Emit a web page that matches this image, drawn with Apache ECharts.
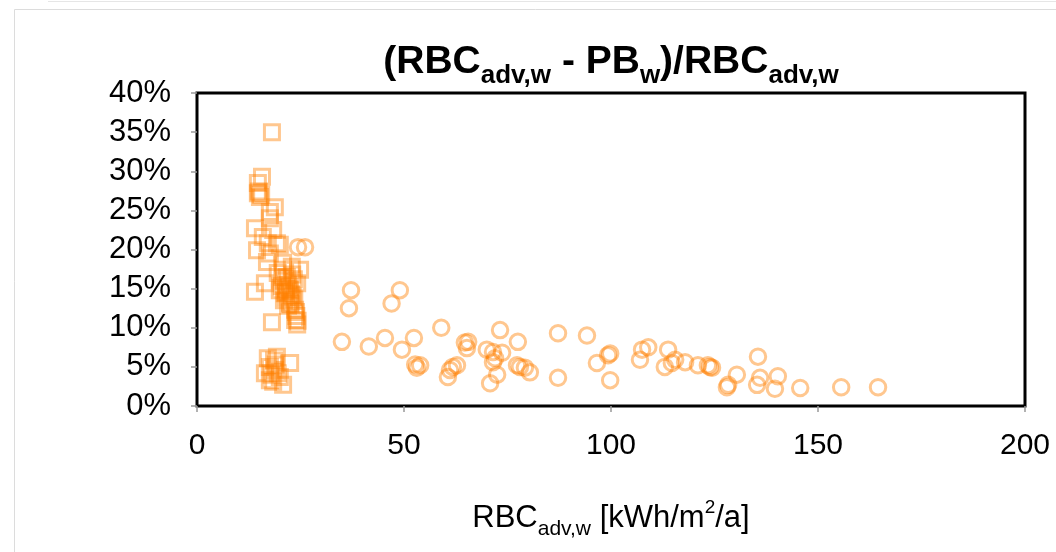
<!DOCTYPE html>
<html>
<head>
<meta charset="utf-8">
<script src="https://cdn.jsdelivr.net/npm/echarts@6/dist/echarts.min.js"></script>
<style>html,body{margin:0;padding:0;background:#fff;}#c{width:1056px;height:552px;}</style>
</head>
<body>
<div id="c"></div>
<script>
const xTicks = [0, 50, 100, 150, 200];
const yTicks = [0, 5, 10, 15, 20, 25, 30, 35, 40];

const circleX = [35.0, 37.2, 36.7, 41.5, 45.4, 47.0, 49.0, 49.5, 52.4, 52.7, 53.9, 53.1, 59.0, 61.1, 60.6, 61.8, 62.8, 64.7, 65.5, 65.2, 70.0, 71.5, 73.2, 73.7, 71.5, 72.0, 72.5, 70.8, 77.5, 77.3, 78.0, 79.2, 80.4, 87.2, 87.2, 94.2, 96.6, 99.3, 99.8, 99.8, 107.0, 107.5, 109.0, 113.8, 113.0, 114.7, 115.5, 117.9, 121.0, 123.4, 123.9, 124.4, 128.3, 128.0, 130.4, 135.5, 135.3, 136.0, 140.3, 139.6, 145.7, 155.6, 164.5, 24.4, 26.1];
const circleY = [8.2, 14.8, 12.5, 7.6, 8.7, 13.1, 14.8, 7.2, 8.7, 5.3, 5.2, 4.9, 10.0, 4.6, 3.7, 5.0, 5.2, 8.1, 8.2, 7.4, 7.2, 6.9, 9.7, 6.8, 5.6, 6.1, 4.0, 2.9, 8.2, 5.2, 5.0, 4.9, 4.3, 9.3, 3.6, 9.0, 5.5, 6.5, 6.7, 3.3, 5.9, 7.2, 7.5, 7.2, 5.0, 5.5, 5.9, 5.6, 5.2, 5.2, 5.0, 4.9, 2.7, 2.4, 4.0, 6.3, 2.7, 3.6, 3.8, 2.2, 2.3, 2.4, 2.4, 20.3, 20.3];

const squareX = [18.1, 15.7, 14.7, 14.7, 15.2, 15.5, 14.9, 18.8, 17.6, 17.6, 14.0, 18.4, 15.9, 17.1, 19.3, 20.0, 14.5, 17.6, 16.9, 20.8, 24.9, 20.8, 21.7, 14.0, 16.4, 20.0, 22.5, 21.7, 22.5, 24.2, 23.7, 18.1, 23.7, 24.2, 21.0, 22.0, 23.0, 21.5, 22.8, 23.5, 20.5, 21.2, 22.0, 24.0, 19.5, 21.5, 22.3, 23.1, 22.6, 21.0, 23.9, 24.3, 20.6, 22.9, 23.4, 17.1, 19.3, 22.5, 17.6, 18.8, 16.4, 20.0, 17.6, 20.8, 18.4, 19.0, 18.0, 19.5, 18.6];
const squareY = [35.0, 29.3, 28.5, 27.2, 26.7, 27.0, 27.4, 25.4, 24.8, 24.0, 22.7, 22.5, 21.6, 20.8, 20.8, 20.6, 19.9, 19.5, 18.4, 18.3, 17.4, 17.4, 16.5, 14.6, 15.7, 14.8, 14.8, 13.9, 13.2, 15.7, 12.3, 10.7, 11.0, 10.4, 16.0, 15.5, 16.8, 15.0, 14.2, 13.6, 15.3, 14.4, 12.8, 11.5, 17.0, 14.5, 15.2, 14.0, 13.0, 13.5, 12.0, 10.9, 16.5, 17.8, 16.2, 6.1, 6.3, 5.5, 5.0, 4.6, 4.2, 3.7, 3.3, 2.7, 3.1, 5.3, 4.0, 4.2, 5.8];

const circles = circleX.map((x, i) => [x, circleY[i]]);
const squares = squareX.map((x, i) => [x, squareY[i]]);

const FONT = 'Liberation Sans, Arial, sans-serif';
const chart = echarts.init(document.getElementById('c'), null, {renderer: 'canvas'});
chart.setOption({
  backgroundColor: '#fff',
  animation: false,
  graphic: [{
    type: 'rect', left: 12, top: 7, silent: true,
    shape: {width: 1042, height: 560},
    style: {fill: 'none', stroke: '#dcdcdc', lineWidth: 1}
  }, {
    type: 'line', silent: true,
    shape: {x1: 48, y1: 1.5, x2: 1056, y2: 1.5},
    style: {stroke: '#e6e6e6', lineWidth: 1}
  }],
  title: {
    text: '{b|(RBC}{s|adv,w}{b| - PB}{s|w}{b|)/RBC}{s|adv,w}',
    left: 606, top: 31, textAlign: 'center',
    textStyle: {
      rich: {
        b: {fontSize: 39, fontWeight: 'bold', fontFamily: FONT, color: '#000', lineHeight: 46, verticalAlign: 'bottom'},
        s: {fontSize: 26, fontWeight: 'bold', fontFamily: FONT, color: '#000', lineHeight: 46, verticalAlign: 'bottom', padding: [0, 0, -7, 0]}
      }
    }
  },
  grid: {left: 197, right: 31, top: 93, bottom: 146, show: true, borderColor: '#000', borderWidth: 3, backgroundColor: 'transparent'},
  xAxis: {
    type: 'value', min: 0, max: 200, interval: 50,
    splitLine: {show: false},
    axisLine: {show: false},
    axisTick: {show: true, length: 6, lineStyle: {color: '#999', width: 1.5}},
    axisLabel: {fontSize: 30, fontFamily: FONT, color: '#000', margin: 25},
    name: '{n|RBC}{s|adv,w}{n| [kWh/m}{p|2}{n|/a]}',
    nameLocation: 'middle', nameGap: 92,
    nameTextStyle: {
      rich: {
        n: {fontSize: 31, fontFamily: FONT, color: '#000', lineHeight: 36, verticalAlign: 'bottom'},
        s: {fontSize: 21, fontFamily: FONT, color: '#000', lineHeight: 36, verticalAlign: 'bottom', padding: [0, 0, -6, 0]},
        p: {fontSize: 19, fontFamily: FONT, color: '#000', lineHeight: 36, verticalAlign: 'top', padding: [0, 0, 0, 0]}
      }
    }
  },
  yAxis: {
    type: 'value', min: 0, max: 40, interval: 5,
    splitLine: {show: false},
    axisLine: {show: false},
    axisTick: {show: true, length: 6, lineStyle: {color: '#999', width: 1.5}},
    axisLabel: {fontSize: 31, fontFamily: FONT, color: '#000', margin: 26, formatter: '{value}%'}
  },
  series: [
    {
      type: 'scatter', data: squares, symbol: 'rect', symbolSize: 15,
      itemStyle: {color: 'rgba(0,0,0,0)', borderColor: 'rgba(255,128,0,0.55)', borderWidth: 3}
    },
    {
      type: 'scatter', data: circles, symbol: 'circle', symbolSize: 15.5,
      itemStyle: {color: 'rgba(0,0,0,0)', borderColor: 'rgba(255,128,0,0.55)', borderWidth: 3}
    }
  ]
});
</script>
</body>
</html>
